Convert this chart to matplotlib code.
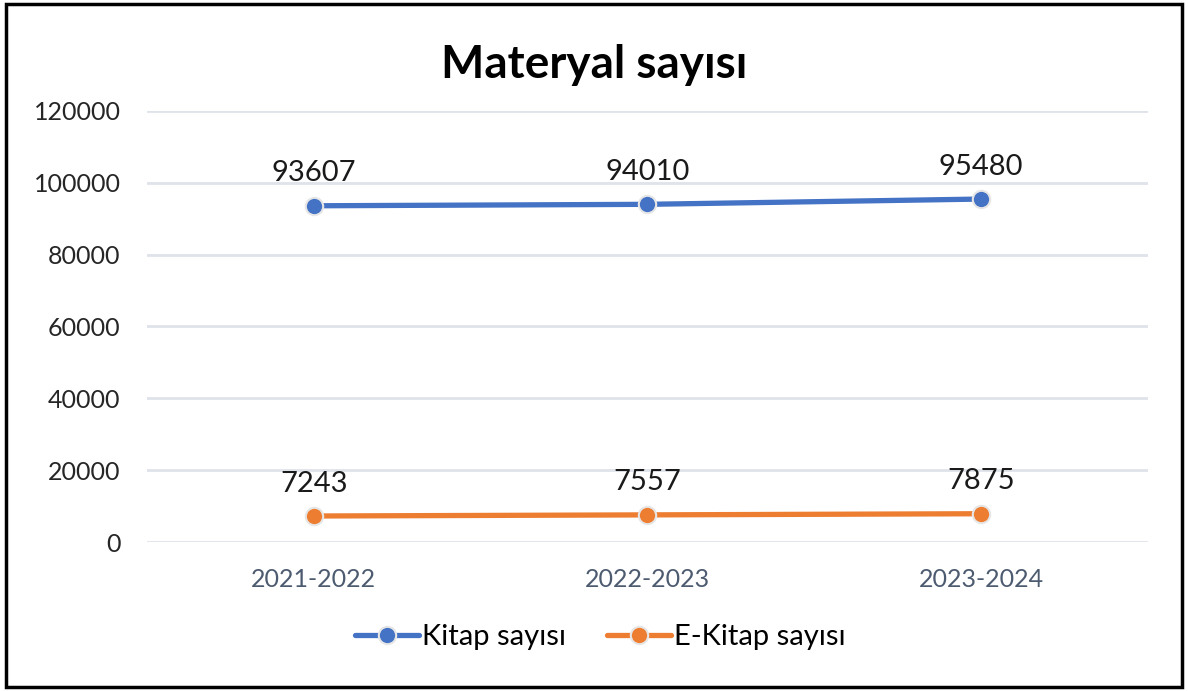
import matplotlib.pyplot as plt
from matplotlib.patches import Rectangle

plt.rcParams['font.family'] = ['Lato', 'DejaVu Sans']

years = ['2021-2022', '2022-2023', '2023-2024']
kitap = [93607, 94010, 95480]
ekitap = [7243, 7557, 7875]
yticks = [0, 20000, 40000, 60000, 80000, 100000, 120000]

fig = plt.figure(figsize=(11.88, 6.91), dpi=100)
ax = fig.add_axes([0.1237, 0.2156, 0.8426, 0.6238])

x = range(len(years))
series = [(kitap, '#4472C4', 'Kitap sayısı'), (ekitap, '#ED7D31', 'E-Kitap sayısı')]
for vals, col, lab in series:
    ax.plot(x, vals, color=col, linewidth=3.8, marker='o', markersize=12.5,
            markerfacecolor=col, markeredgecolor='#e6e6e6', markeredgewidth=1.5,
            label=lab, solid_capstyle='round')
    for xi, v in zip(x, vals):
        ax.annotate(str(v), (xi, v), xytext=(0, 14), textcoords='offset points',
                    ha='center', va='bottom', fontsize=21, color='#1a1a1a')

ax.set_xlim(-0.5, 2.5)
ax.set_ylim(0, 120000)
ax.set_yticks(yticks)
ax.set_yticklabels([str(t) for t in yticks])
ax.set_xticks(list(x))
ax.set_xticklabels(years)
ax.grid(axis='y', color='#dfe3ea', linewidth=2)
ax.set_axisbelow(True)
for s in ax.spines.values():
    s.set_visible(False)
ax.tick_params(axis='y', length=0, labelsize=18, labelcolor='#262626', pad=19)
ax.tick_params(axis='x', length=0, labelsize=18, labelcolor='#4d5b70', pad=19)

fig.text(0.5, 0.906, 'Materyal sayısı', ha='center', va='center',
         fontsize=33, fontweight='bold', color='black')

fig.legend(loc='center', bbox_to_anchor=(0.505, 0.078), ncol=2, frameon=False,
           fontsize=21, handlelength=2.2, columnspacing=1.4, handletextpad=0.1)

fig.patches.append(Rectangle((0.005, 0.006), 0.99, 0.988, transform=fig.transFigure,
                             fill=False, edgecolor='black', linewidth=2.5))

fig.savefig('out.png', dpi=100)
